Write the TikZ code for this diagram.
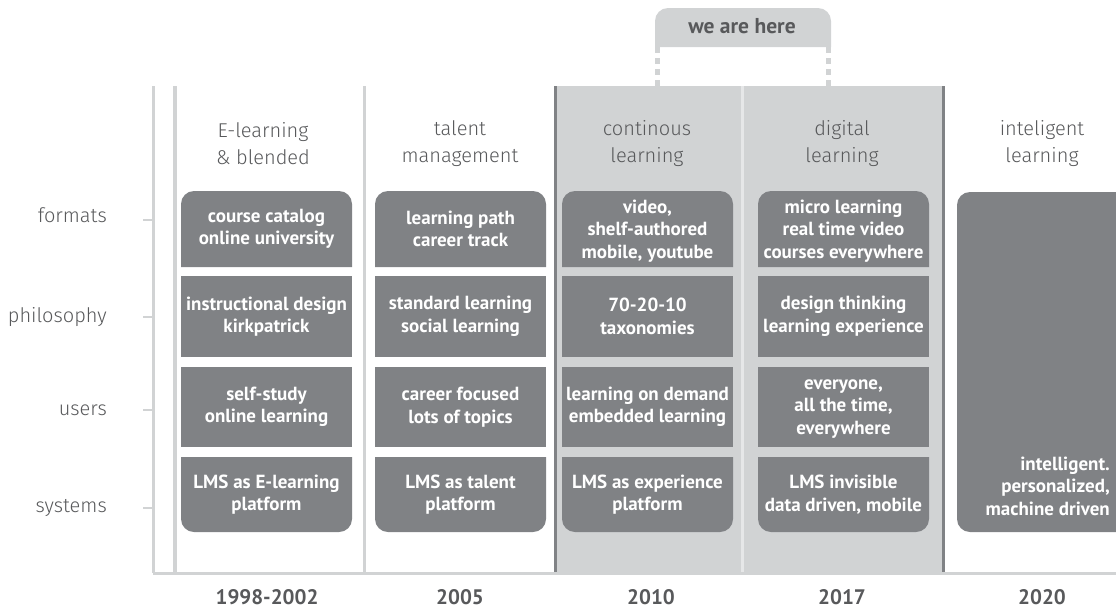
\documentclass[tikz,border=0pt]{standalone}
\usepackage{fontspec}
\setmainfont{PT Sans}
\newfontfamily\lightf{Fira Sans Light}
\definecolor{boxgray}{HTML}{808285}
\definecolor{lightgray2}{HTML}{D1D3D4}
\definecolor{textgray}{HTML}{58595B}
\definecolor{sepwhite}{HTML}{E6E7E8}
\begin{document}
\begin{tikzpicture}[x=1pt,y=-1pt,
  boxtext/.style={text=white, font=\bfseries\fontsize{19}{22.5}\selectfont, align=center, inner sep=0pt},
  header/.style={text=textgray, font=\lightf\fontsize{20}{27}\selectfont, align=center, inner sep=0pt},
  rowlabel/.style={text=textgray, font=\lightf\fontsize{20}{24}\selectfont, anchor=base east, inner sep=0pt},
  yearlabel/.style={text=textgray, font=\bfseries\fontsize{21}{24}\selectfont, anchor=base, inner sep=0pt},
  axisline/.style={draw=lightgray2, line width=3pt},
  tickline/.style={draw=lightgray2, line width=2.5pt},
  boxfill/.style={fill=boxgray},
]
\useasboundingbox (0,0) rectangle (1116,608);
\clip (0,0) rectangle (1116,608);

% shaded "current" region
\fill[lightgray2] (555,86) rectangle (944,573);

% we are here tab
\fill[lightgray2, rounded corners=13pt] (655,47) -- (655,8) -- (831,8) -- (831,47);
\draw[lightgray2, line width=5pt, dash pattern=on 6pt off 5pt] (657.5,47) -- (657.5,86);
\draw[lightgray2, line width=5pt, dash pattern=on 6pt off 5pt] (828.5,47) -- (828.5,86);
\node[text=textgray, font=\bfseries\fontsize{21.5}{24}\selectfont, anchor=base, inner sep=0pt] (here) at (742,33) {we are here};

% axis and separators
\draw[axisline] (153,86) -- (153,573);
\draw[axisline] (153,573) -- (1116,573);
\draw[draw=lightgray2, line width=3.5pt] (175,86) -- (175,573);
\draw[draw=lightgray2, line width=3.5pt] (364.5,86) -- (364.5,573);
\draw[draw=sepwhite, line width=3pt] (742.5,86) -- (742.5,571.5);
\draw[draw=boxgray, line width=3pt] (555,86) -- (555,571.5);
\draw[draw=boxgray, line width=3pt] (943.5,86) -- (943.5,571.5);

% ticks
\foreach \ty in {220,317,410,508} {\draw[tickline] (143,\ty) -- (153,\ty);}

% row labels
\node[rowlabel] (lf) at (107,222) {formats};
\node[rowlabel] (lp) at (107,322) {philosophy};
\node[rowlabel] (lu) at (107,415) {users};
\node[rowlabel] (ls) at (107,512) {systems};

% headers
\node[header] (h1) at (263,144) {E-learning\\\& blended};
\node[header] (h2) at (460,144) {talent\\management};
\node[header] (h3) at (647,144) {continous\\learning};
\node[header] (h4) at (842,144) {digital\\learning};
\node[header] (h5) at (1042,144) {inteligent\\learning};

% boxes
\foreach \bx in {181,375,562,758} {
  \fill[boxfill, rounded corners=13pt] (\bx,267) -- (\bx,191) -- (\bx+171,191) -- (\bx+171,267);
  \fill[boxfill] (\bx,276) rectangle (\bx+171,357);
  \fill[boxfill] (\bx,367) rectangle (\bx+171,447);
  \fill[boxfill, rounded corners=13pt] (\bx,457) -- (\bx,532) -- (\bx+171,532) -- (\bx+171,457);
}
\fill[boxfill, rounded corners=13pt] (957,192) rectangle (1150,532);

% box texts
\node[boxtext] (f1) at (266.5,229) {course catalog\\online university};
\node[boxtext] (p1) at (266.5,316.5) {instructional design\\kirkpatrick};
\node[boxtext] (u1) at (266.5,407) {self-study\\online learning};
\node[boxtext] (s1) at (266.5,494.5) {LMS as E-learning\\platform};

\node[boxtext] (f2) at (460.5,229) {learning path\\career track};
\node[boxtext] (p2) at (460.5,316.5) {standard learning\\social learning};
\node[boxtext] (u2) at (460.5,407) {career focused\\lots of topics};
\node[boxtext] (s2) at (460.5,494.5) {LMS as talent\\platform};

\node[boxtext] (f3) at (647.5,231) {video,\\shelf-authored\\mobile, youtube};
\node[boxtext] (p3) at (647.5,316.5) {70-20-10\\taxonomies};
\node[boxtext] (u3) at (647.5,407) {learning on demand\\embedded learning};
\node[boxtext] (s3) at (647.5,494.5) {LMS as experience\\platform};

\node[boxtext] (f4) at (843.5,231) {micro learning\\real time video\\courses everywhere};
\node[boxtext] (p4) at (843.5,316.5) {design thinking\\learning experience};
\node[boxtext] (u4) at (843.5,409) {everyone,\\all the time,\\everywhere};
\node[boxtext] (s4) at (843.5,494.5) {LMS invisible\\data driven, mobile};

\node[boxtext, align=right, anchor=east] (i5) at (1110,486) {intelligent.\\personalized,\\machine driven};

% years
\node[yearlabel] (y1) at (267,604) {1998-2002};
\node[yearlabel] (y2) at (460,604) {2005};
\node[yearlabel] (y3) at (651,604) {2010};
\node[yearlabel] (y4) at (842,604) {2017};
\node[yearlabel] (y5) at (1042,604) {2020};
\end{tikzpicture}
\end{document}
